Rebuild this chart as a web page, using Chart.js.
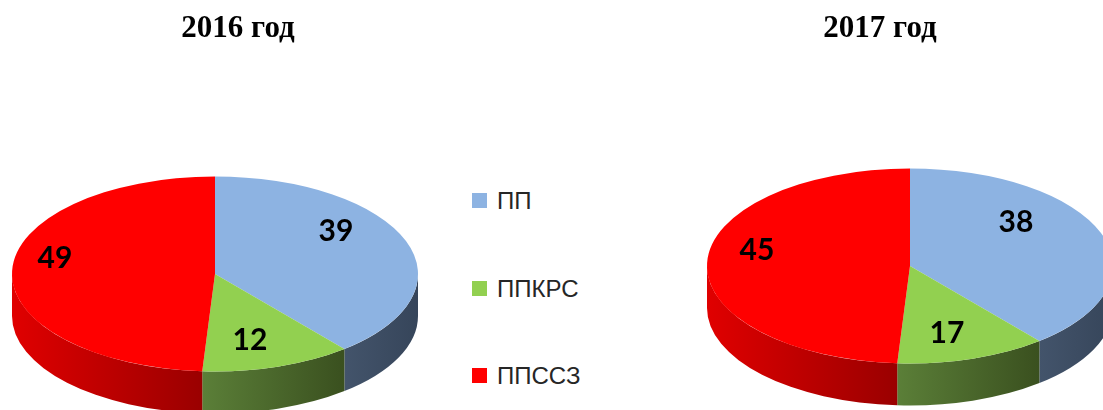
<!DOCTYPE html>
<html>
<head>
<meta charset="utf-8">
<script src="https://cdn.jsdelivr.net/npm/chart.js@4"></script>
<style>
    html, body { margin: 0; padding: 0; background: #fff; }
    #page { position: relative; width: 1103px; height: 410px; overflow: hidden; }
    canvas { position: absolute; top: 0; }
    .title { position: absolute; top: 11px; width: 300px; text-align: center;
             font: bold 31px/31px "Liberation Serif", "Times New Roman", serif; color: #000; }
    .legend-item { position: absolute; left: 472px; height: 24px; }
    .legend-box { position: absolute; left: 0; top: 4px; width: 15px; height: 15px; }
    .legend-text { position: absolute; left: 25px; top: 0; white-space: nowrap;
                   font: 24px/24px "Liberation Sans", Arial, sans-serif; color: #262626; }
</style>
</head>
<body>
<div id="page">
    <canvas id="pie2016" width="440" height="410" style="left:0"></canvas>
    <canvas id="pie2017" width="423" height="410" style="left:680px"></canvas>
    <div class="title" style="left:88px">2016 год</div>
    <div class="title" style="left:730px">2017 год</div>
    <div id="legend"></div>
</div>
<script>
// data
var categories = ['ПП', 'ППКРС', 'ППССЗ'];
var values2016 = [39, 12, 49];
var labels2016 = [39, 12, 49];
// in the source the 2017 slices are drawn the same size as 2016,
// only the printed numbers differ
var values2017 = [39, 12, 49];
var labels2017 = [38, 17, 45];

// colours: top face, wall (light side), wall (dark side)
var topColors = ['#8db3e2', '#92d050', '#ff0000'];
var wallLight = ['#43546b', '#5b7f38', '#e00000'];
var wallDark  = ['#36455a', '#3a501f', '#9a0000'];

// label placement per slice: [fraction of radius, vertical lift px]
var labelPlace2016 = [[0.633, -23], [0.558, 13], [0.789, -15]];
var labelPlace2017 = [[0.555, -27], [0.59, 11], [0.754, -15]];

// Draws the pie as a tilted disc: side walls first, then the library's arcs squashed vertically
var pie3d = {
    id: 'pie3d',
    beforeDatasetsDraw: function (chart, args, opts) {
        var ctx = chart.ctx;
        var arcs = chart.getDatasetMeta(0).data;
        if (!arcs.length) return;
        var cx = arcs[0].x, cy = arcs[0].y, r = arcs[0].outerRadius;
        var k = opts.tilt, ty = opts.centerY, depth = opts.depth;

        arcs.forEach(function (arc, i) {
            // only the front half of the wall is visible (canvas angles 0..PI)
            var a1 = Math.max(arc.startAngle, 0);
            var a2 = Math.min(arc.endAngle, Math.PI);
            if (a2 <= a1) return;
            var xa = cx + r * Math.cos(a1), xb = cx + r * Math.cos(a2);
            var g = ctx.createLinearGradient(Math.min(xa, xb), 0, Math.max(xa, xb), 0);
            g.addColorStop(0, wallLight[i]);
            g.addColorStop(1, wallDark[i]);
            ctx.beginPath();
            ctx.ellipse(cx, ty, r, r * k, 0, a1, a2);
            ctx.ellipse(cx, ty + depth, r, r * k, 0, a2, a1, true);
            ctx.closePath();
            ctx.fillStyle = g;
            ctx.fill();
        });

        ctx.save();
        ctx.translate(cx, ty);
        ctx.scale(1, k);
        ctx.translate(-cx, -cy);
    },
    afterDatasetsDraw: function (chart, args, opts) {
        var ctx = chart.ctx;
        ctx.restore();

        var arcs = chart.getDatasetMeta(0).data;
        if (!arcs.length) return;
        var cx = arcs[0].x, r = arcs[0].outerRadius;
        var k = opts.tilt, ty = opts.centerY;

        ctx.save();
        ctx.font = 'bold 30px Lato, "Open Sans", sans-serif';
        ctx.fillStyle = '#000';
        ctx.textAlign = 'center';
        ctx.textBaseline = 'alphabetic';
        arcs.forEach(function (arc, i) {
            var mid = (arc.startAngle + arc.endAngle) / 2;
            var p = opts.place[i];
            var x = cx + Math.cos(mid) * r * p[0];
            var y = ty + Math.sin(mid) * r * k * p[0] + p[1];
            ctx.fillText(String(opts.text[i]), x, y + 11);
        });
        ctx.restore();
    }
};

function makePie(id, values, text, padding, centerY, place) {
    return new Chart(document.getElementById(id), {
        type: 'pie',
        data: {
            labels: categories,
            datasets: [{
                data: values,
                backgroundColor: topColors,
                borderWidth: 0,
                radius: 203,
                clip: false
            }]
        },
        options: {
            responsive: false,
            animation: false,
            devicePixelRatio: 1,
            events: [],
            layout: { padding: padding },
            plugins: {
                legend: { display: false },
                tooltip: { enabled: false },
                pie3d: { tilt: 0.48, depth: 42, centerY: centerY, place: place, text: text }
            }
        },
        plugins: [pie3d]
    });
}

makePie('pie2016', values2016, labels2016, { left: 0, right: 10, top: 0, bottom: 0 }, 274, labelPlace2016);
makePie('pie2017', values2017, labels2017, { left: 37, right: 0, top: 0, bottom: 0 }, 266, labelPlace2017);

// shared legend
var legend = document.getElementById('legend');
var rowCenters = [200, 288, 375];
categories.forEach(function (name, i) {
    var item = document.createElement('div');
    item.className = 'legend-item';
    item.style.top = (rowCenters[i] - 11.5) + 'px';
    var box = document.createElement('div');
    box.className = 'legend-box';
    box.style.background = topColors[i];
    var txt = document.createElement('div');
    txt.className = 'legend-text';
    txt.textContent = name;
    item.appendChild(box);
    item.appendChild(txt);
    legend.appendChild(item);
});
</script>
</body>
</html>
